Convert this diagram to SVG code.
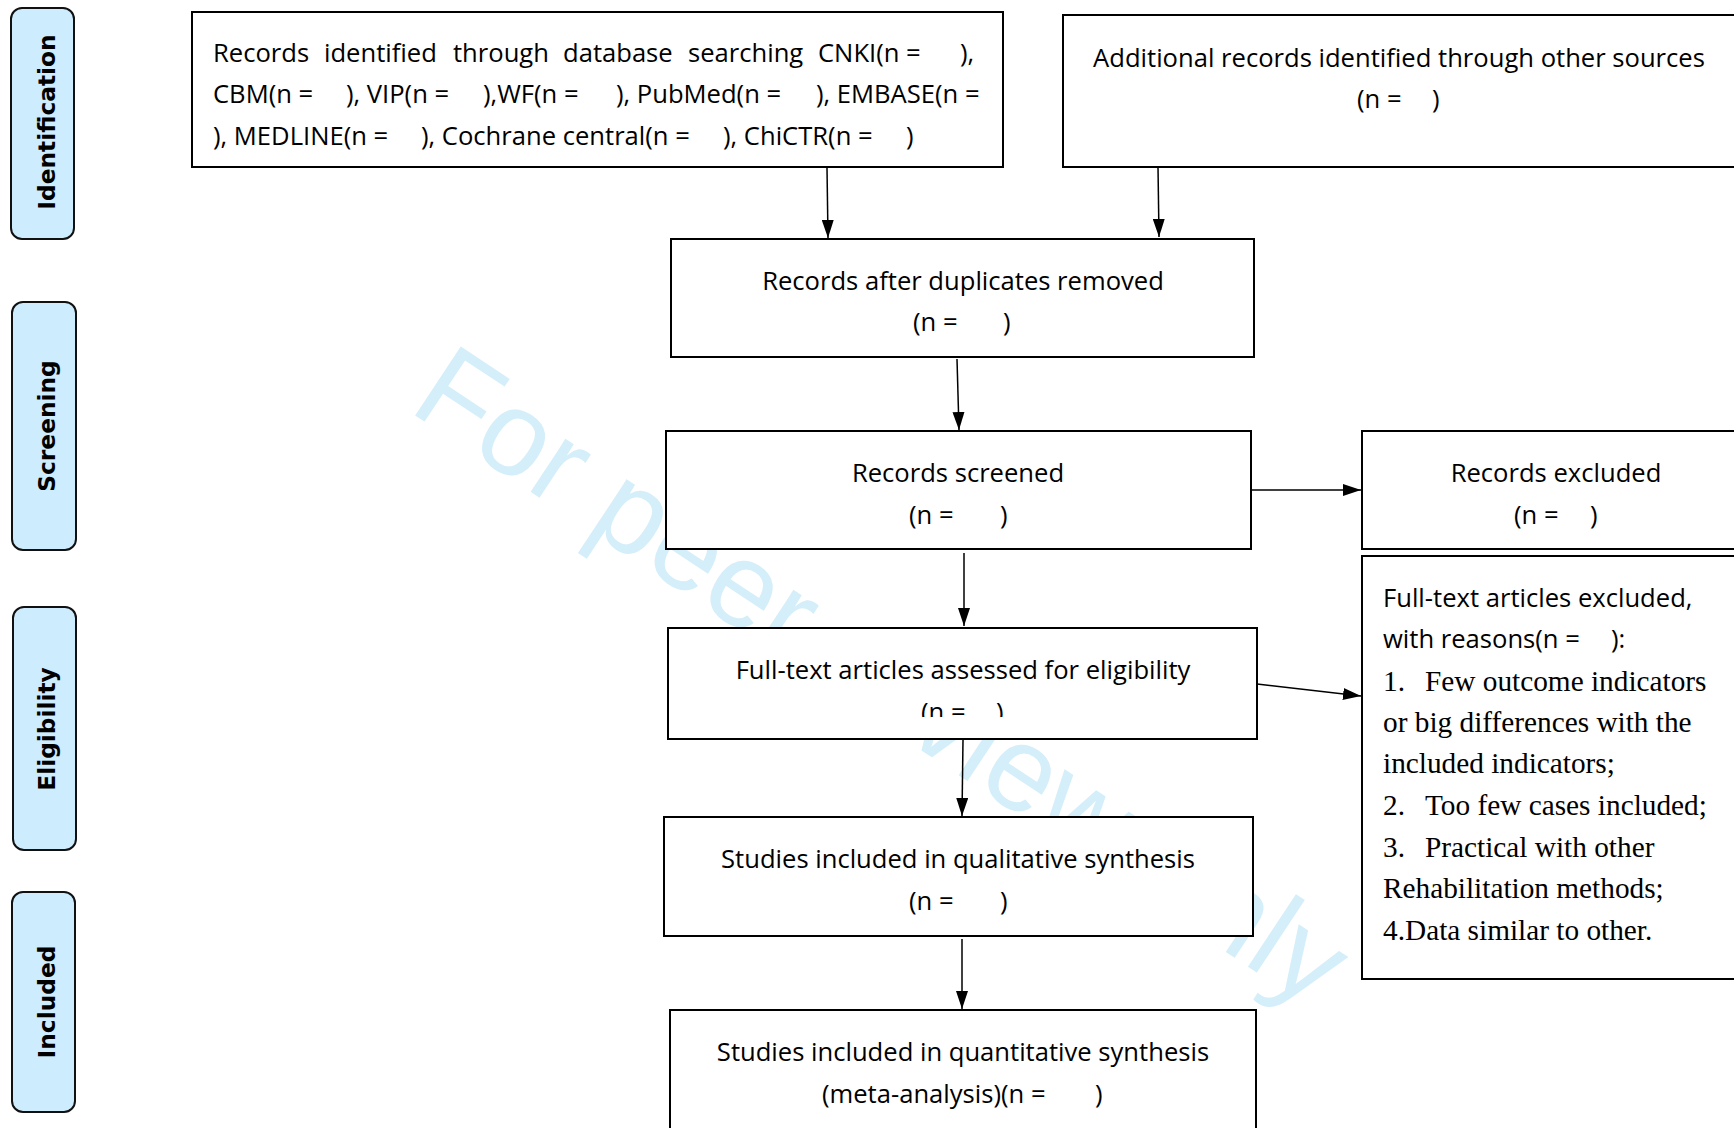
<svg xmlns="http://www.w3.org/2000/svg" width="1734" height="1128" viewBox="0 0 1734 1128">
<defs>
<style>
.tab{fill:#cdecfd;stroke:#111;stroke-width:2}
.tabt{font-family:"DejaVu Sans",Verdana,sans-serif;font-weight:bold;font-size:23.3px;fill:#000;text-anchor:middle}
.box{fill:#fff;stroke:#000;stroke-width:2}
.t{font-family:"Open Sans","Liberation Sans",sans-serif;font-size:25.6px;fill:#000}
.c{text-anchor:middle}
.s{font-family:"Liberation Serif","Times New Roman",serif;font-size:29.3px;fill:#000}
.wm{font-family:"Liberation Sans",Arial,sans-serif;font-size:120px;fill:#d4eefa}
.con{stroke:#000;stroke-width:1.5;fill:none;marker-end:url(#ah)}
</style>
<marker id="ah" viewBox="0 0 18 12" refX="18" refY="6" markerWidth="18" markerHeight="12" markerUnits="userSpaceOnUse" orient="auto">
<path d="M0,0 L18,6 L0,12 z" fill="#000"/>
</marker>
<clipPath id="clipG"><rect x="668" y="628" width="589" height="89"/></clipPath>
</defs>
<rect width="1734" height="1128" fill="#fff"/>
<text class="wm" transform="translate(407,410) rotate(33.5)">For peer review only</text>

<g id="tab-identification"><rect class="tab" x="11" y="8" width="63" height="231" rx="11"/><text class="tabt" transform="translate(55,122) rotate(-90)">Identification</text></g>
<g id="tab-screening"><rect class="tab" x="12" y="302" width="64" height="248" rx="11"/><text class="tabt" transform="translate(55,426) rotate(-90)">Screening</text></g>
<g id="tab-eligibility"><rect class="tab" x="13" y="607" width="63" height="243" rx="11"/><text class="tabt" transform="translate(55,729) rotate(-90)">Eligibility</text></g>
<g id="tab-included"><rect class="tab" x="12" y="892" width="63" height="220" rx="11"/><text class="tabt" transform="translate(55,1002) rotate(-90)">Included</text></g>

<g id="connectors">
<line class="con" x1="827" y1="168" x2="828" y2="238"/>
<line class="con" x1="1158" y1="167" x2="1159" y2="237"/>
<line class="con" x1="957" y1="359" x2="959" y2="430"/>
<line class="con" x1="1252" y1="490" x2="1361" y2="490"/>
<line class="con" x1="964" y1="553" x2="964" y2="626"/>
<line class="con" x1="1257" y1="684" x2="1361" y2="696"/>
<line class="con" x1="963" y1="740" x2="962" y2="816"/>
<line class="con" x1="962" y1="939" x2="962" y2="1009"/>
</g>

<g id="box-database">
<rect class="box" x="192" y="12" width="811" height="155"/>
<text class="t" y="62"><tspan x="213">Records</tspan><tspan x="324">identified</tspan><tspan x="453">through</tspan><tspan x="563">database</tspan><tspan x="688">searching</tspan><tspan x="818">CNKI(n =</tspan><tspan x="960">),</tspan></text>
<text class="t" y="103"><tspan x="213">CBM(n =</tspan><tspan x="346">), VIP(n =</tspan><tspan x="483">),WF(n =</tspan><tspan x="616">), PubMed(n =</tspan><tspan x="816">), EMBASE(n =</tspan></text>
<text class="t" y="145"><tspan x="213">), MEDLINE(n =</tspan><tspan x="421">), Cochrane central(n =</tspan><tspan x="723">), ChiCTR(n =</tspan><tspan x="906">)</tspan></text>
</g>

<g id="box-other">
<rect class="box" x="1063" y="15" width="680" height="152"/>
<text class="t c" x="1399" y="67">Additional records identified through other sources</text>
<text class="t" y="108"><tspan x="1357">(n =</tspan><tspan x="1432">)</tspan></text>
</g>

<g id="box-duplicates">
<rect class="box" x="671" y="239" width="583" height="118"/>
<text class="t c" x="963" y="290">Records after duplicates removed</text>
<text class="t" y="331"><tspan x="913">(n =</tspan><tspan x="1003">)</tspan></text>
</g>

<g id="box-screened">
<rect class="box" x="666" y="431" width="585" height="118"/>
<text class="t c" x="958" y="482">Records screened</text>
<text class="t" y="524"><tspan x="909">(n =</tspan><tspan x="1000">)</tspan></text>
</g>

<g id="box-excluded">
<rect class="box" x="1362" y="431" width="380" height="118"/>
<text class="t c" x="1556" y="482">Records excluded</text>
<text class="t" y="524"><tspan x="1514">(n =</tspan><tspan x="1590">)</tspan></text>
</g>

<g id="box-fulltext-excluded">
<rect class="box" x="1362" y="556" width="380" height="423"/>
<text class="t" x="1383" y="607">Full-text articles excluded,</text>
<text class="t" y="648"><tspan x="1383">with reasons(n =</tspan><tspan x="1611">):</tspan></text>
<text class="s" y="691"><tspan x="1383">1.</tspan><tspan x="1425">Few outcome indicators</tspan></text>
<text class="s" x="1383" y="732">or big differences with the</text>
<text class="s" x="1383" y="773">included indicators;</text>
<text class="s" y="815"><tspan x="1383">2.</tspan><tspan x="1425">Too few cases included;</tspan></text>
<text class="s" y="857"><tspan x="1383">3.</tspan><tspan x="1425">Practical with other</tspan></text>
<text class="s" x="1383" y="898">Rehabilitation methods;</text>
<text class="s" x="1383" y="940">4.Data similar to other.</text>
</g>

<g id="box-eligibility">
<rect class="box" x="668" y="628" width="589" height="111"/>
<g clip-path="url(#clipG)">
<text class="t c" x="963" y="679">Full-text articles assessed for eligibility</text>
<text class="t" y="721"><tspan x="921">(n =</tspan><tspan x="996">)</tspan></text>
</g>
</g>

<g id="box-qualitative">
<rect class="box" x="664" y="817" width="589" height="119"/>
<text class="t c" x="958" y="868">Studies included in qualitative synthesis</text>
<text class="t" y="910"><tspan x="909">(n =</tspan><tspan x="1000">)</tspan></text>
</g>

<g id="box-quantitative">
<rect class="box" x="670" y="1010" width="586" height="130"/>
<text class="t c" x="963" y="1061">Studies included in quantitative synthesis</text>
<text class="t" y="1103"><tspan x="822">(meta-analysis)(n =</tspan><tspan x="1095">)</tspan></text>
</g>
</svg>
